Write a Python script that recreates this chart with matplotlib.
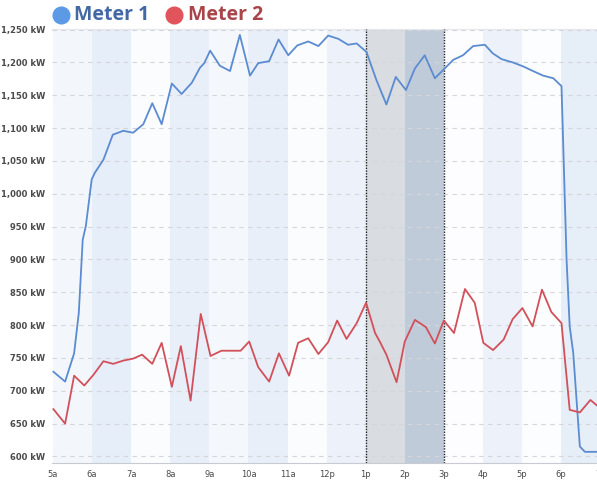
import matplotlib
matplotlib.use("Agg")
import matplotlib.pyplot as plt
from matplotlib.lines import Line2D
from matplotlib.ticker import FuncFormatter

# --- data (hour of day, kW) ---
m1_hours = [5.01, 5.31, 5.54, 5.66, 5.76, 5.84, 5.99, 6.07, 6.29, 6.53, 6.80, 7.05,
            7.31, 7.54, 7.78, 8.04, 8.29, 8.55, 8.76, 8.87, 9.02, 9.27, 9.53, 9.78,
            10.04, 10.25, 10.53, 10.77, 11.02, 11.25, 11.53, 11.79, 12.04, 12.30,
            12.55, 12.77, 13.02, 13.27, 13.53, 13.77, 14.03, 14.26, 14.51, 14.77,
            14.99, 15.24, 15.49, 15.75, 16.05, 16.25, 16.48, 16.77, 17.03, 17.28,
            17.54, 17.80, 18.01, 18.14, 18.22, 18.31, 18.48, 18.61, 18.95]
m1_kw = [729, 714, 757, 819, 930, 951, 1022, 1032, 1052, 1090, 1096, 1093,
         1106, 1138, 1106, 1168, 1152, 1169, 1192, 1199, 1218, 1195, 1187, 1242,
         1180, 1199, 1202, 1235, 1211, 1226, 1232, 1225, 1241, 1236,
         1227, 1229, 1216, 1174, 1136, 1178, 1158, 1191, 1211, 1176,
         1189, 1204, 1211, 1225, 1227, 1214, 1205, 1200, 1194, 1187,
         1180, 1176, 1164, 900, 798, 758, 615, 607, 607]

m2_hours = [5.01, 5.31, 5.54, 5.80, 6.03, 6.29, 6.54, 6.80, 7.05, 7.28, 7.54, 7.78,
            8.04, 8.27, 8.52, 8.78, 9.03, 9.31, 9.80, 10.02, 10.25, 10.53, 10.78,
            11.04, 11.27, 11.53, 11.79, 12.04, 12.27, 12.51, 12.77, 13.01, 13.24,
            13.36, 13.53, 13.79, 14.00, 14.26, 14.54, 14.77, 15.00, 15.26, 15.54,
            15.79, 16.01, 16.26, 16.53, 16.76, 17.01, 17.27, 17.51, 17.75, 18.01,
            18.22, 18.48, 18.75, 18.95]
m2_kw = [672, 650, 723, 708, 724, 745, 741, 746, 749, 755, 741, 773,
         706, 768, 685, 817, 753, 761, 761, 775, 736, 714, 757,
         723, 773, 780, 756, 774, 807, 779, 803, 834, 788,
         775, 755, 713, 775, 808, 797, 772, 807, 788, 855,
         834, 773, 762, 778, 809, 826, 798, 854, 820, 803,
         671, 667, 686, 676]

tick_hours = list(range(5, 20))
tick_labels = ["5a", "6a", "7a", "8a", "9a", "10a", "11a", "12p", "1p", "2p", "3p",
               "4p", "5p", "6p", "7p"]
band_colors = ["#f3f7fc", "#e6eef9", "#fbfcfe", "#e8eff9", "#f4f7fc", "#e8eff9",
               "#fafcfe", "#edf2fa", "#d9dce1", "#c0cbd9", "#fdfdff", "#edf2fa",
               "#fcfdfe", "#e6eef8"]
highlight = (13, 15)

fig = plt.figure(figsize=(5.97, 4.8), dpi=100)
ax = fig.add_axes([52 / 597, 1 - 463 / 480, 556 / 597, 434 / 480])

for h, c in zip(tick_hours[:-1], band_colors):
    ax.axvspan(h, h + 1, color=c, lw=0, zorder=0)

for v in range(600, 1251, 50):
    ax.axhline(v, color="#d4d6da", lw=0.8, dashes=(4, 4), zorder=1)

for h in highlight:
    ax.axvline(h, color="#222222", lw=1.0, ls=(0, (1, 1)), zorder=3)

ax.plot(m1_hours, m1_kw, color="#5b8bd0", lw=1.3, zorder=4)
ax.plot(m2_hours, m2_kw, color="#d2505a", lw=1.3, zorder=4)

ax.set_xlim(4.974, 19.2)
ax.set_ylim(590, 1251)
ax.set_yticks(range(600, 1251, 50))
ax.yaxis.set_major_formatter(FuncFormatter(lambda v, p: f"{int(v):,} kW"))
ax.set_xticks(tick_hours)
ax.set_xticklabels(tick_labels)
ax.tick_params(axis="both", length=0, labelsize=6, labelcolor="#4a4a4a")
ax.tick_params(axis="y", pad=5)
ax.tick_params(axis="x", pad=5)
for lbl in ax.get_yticklabels():
    lbl.set_fontweight("semibold")
for s in ["right", "left"]:
    ax.spines[s].set_visible(False)
ax.spines["bottom"].set_color("#c8ccd2")
ax.spines["top"].set_color("#e4e6ea")

# legend on top
fig.add_artist(Line2D([60.5 / 597], [1 - 15 / 480], marker="o", ms=12, color="#5c9ae6",
                      transform=fig.transFigure))
fig.text(74 / 597, 1 - 15.5 / 480, "Meter 1", color="#4268a6", fontsize=14,
         fontweight="bold", family="Open Sans", va="center", ha="left")
fig.add_artist(Line2D([173.5 / 597], [1 - 15 / 480], marker="o", ms=12, color="#e2545c",
                      transform=fig.transFigure))
fig.text(188 / 597, 1 - 15.5 / 480, "Meter 2", color="#a8444a", fontsize=14,
         fontweight="bold", family="Open Sans", va="center", ha="left")

fig.savefig("out.png", dpi=100)
